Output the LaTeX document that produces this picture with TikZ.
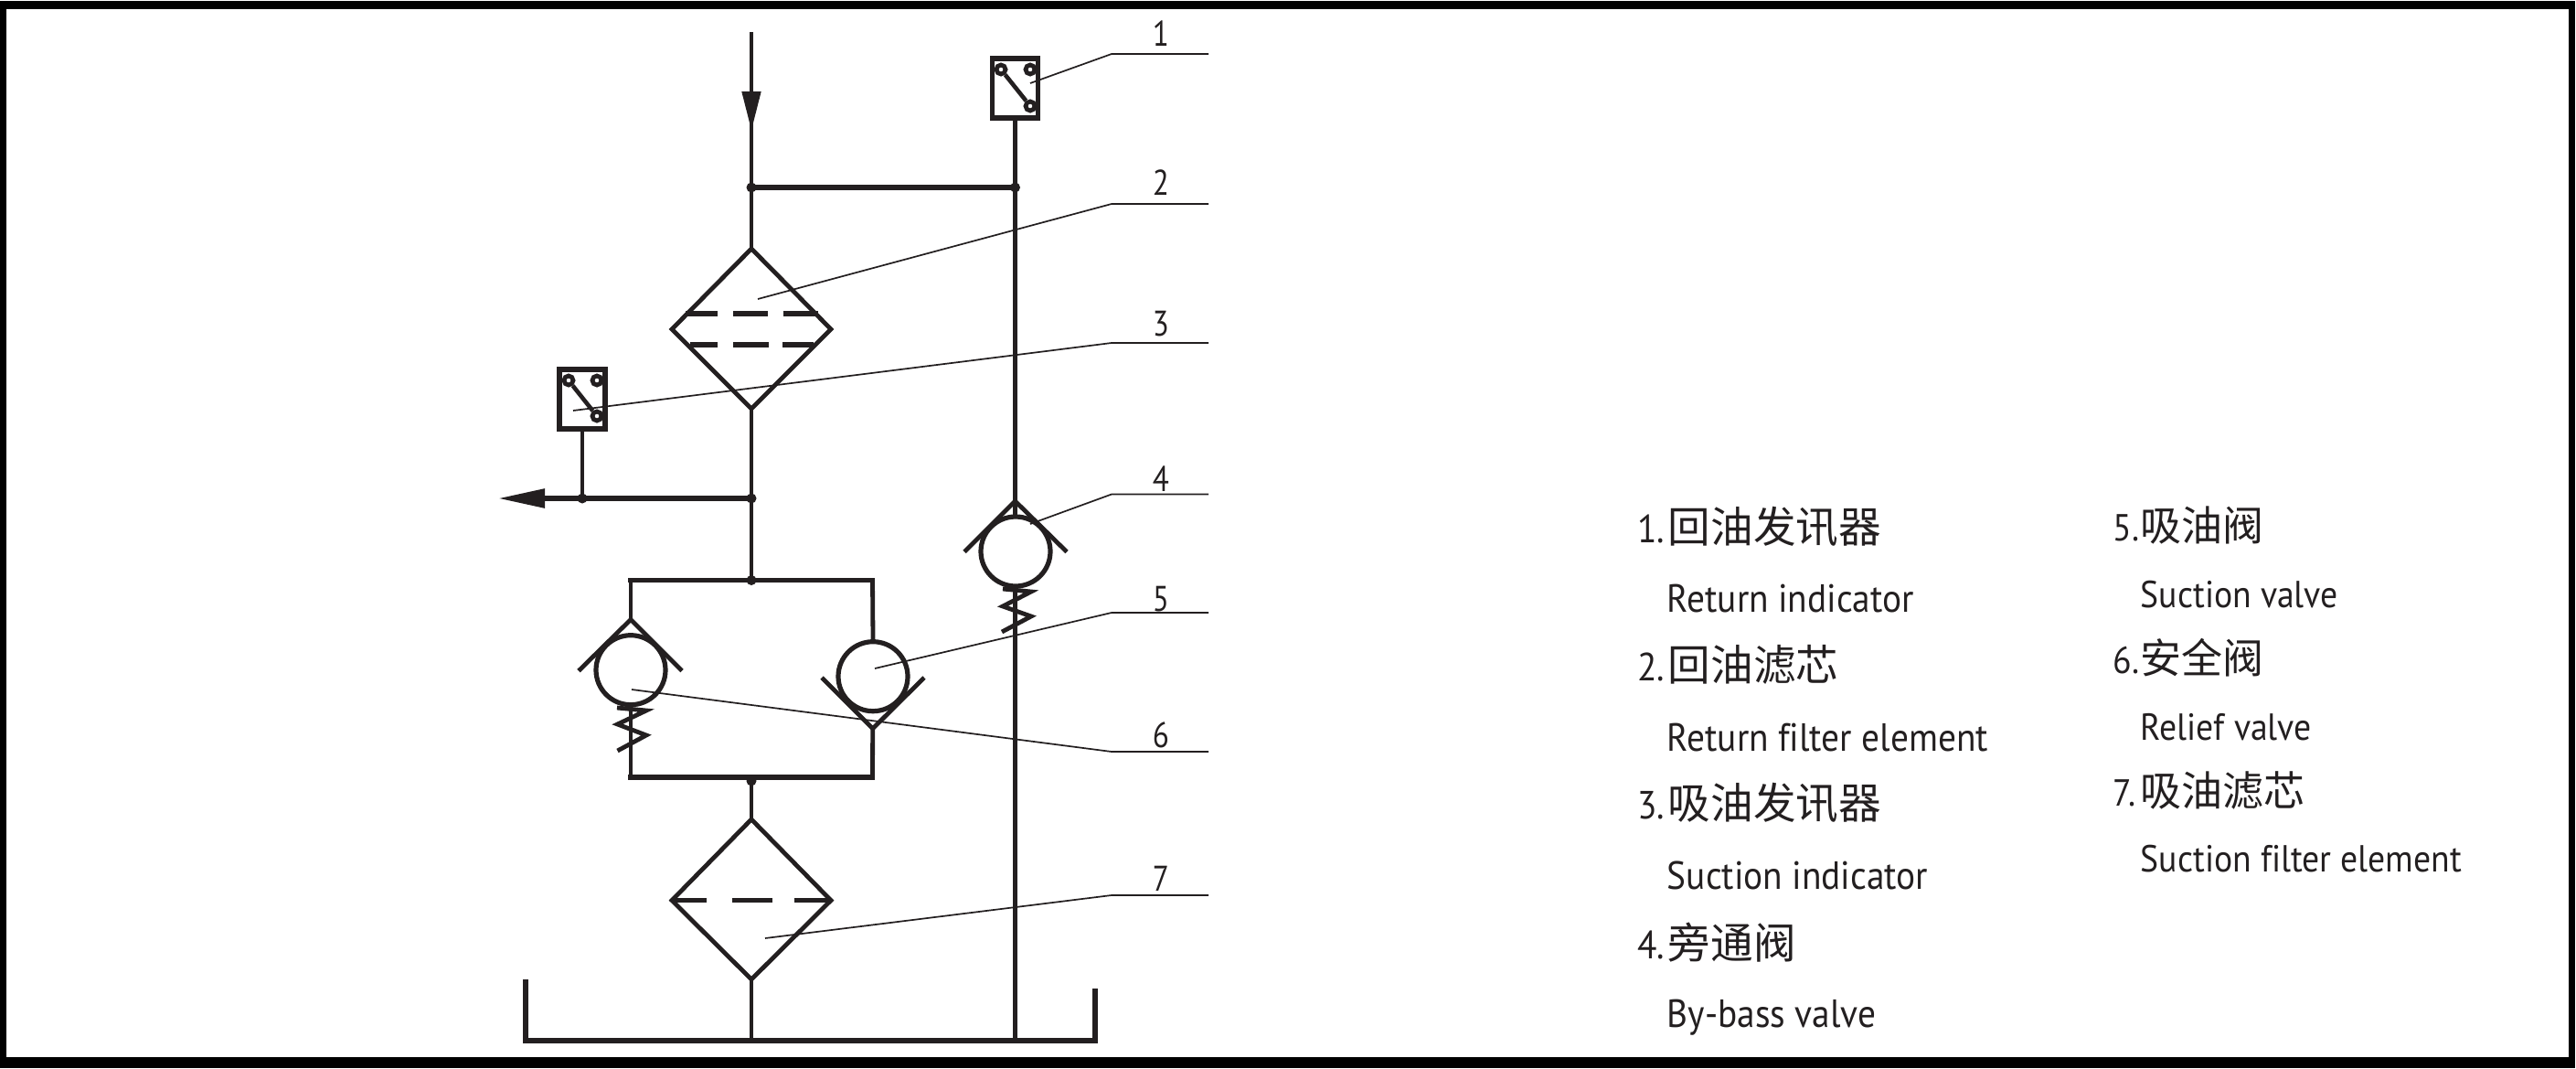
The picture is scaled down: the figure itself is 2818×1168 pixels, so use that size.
\documentclass[tikz,border=0pt]{standalone}
\usepackage{fontspec}
\usetikzlibrary{arrows.meta}
\setmainfont[FakeStretch=0.915,Ligatures=CommonOff]{PT Sans}
\newfontfamily\cjk{Noto Sans CJK SC}
\newfontfamily\numfont[FakeStretch=0.85]{PT Sans}
\definecolor{ink}{HTML}{231F20}
\tikzset{
  pipe/.style={draw=ink,line width=2.4pt},
  bar/.style={draw=ink,line width=2.8pt},
  dot/.style={circle,fill=ink,inner sep=0pt,minimum size=5.5pt},
  lead/.style={draw=ink,line width=0.85pt},
  num/.style={text=ink,font=\numfont\fontsize{19.5pt}{19.5pt}\selectfont,inner sep=0pt},
  legend/.style={text=ink,inner sep=0pt,anchor=base west,font=\fontsize{21.5pt}{21.5pt}\selectfont},
  legendb/.style={text=ink,inner sep=0pt,anchor=base west,font=\fontsize{20.6pt}{20.6pt}\selectfont},
  switchbox/.style={draw=ink,line width=2.8pt,fill=white,minimum width=25pt,minimum height=32.5pt,inner sep=0pt},
  contact/.style={circle,draw=ink,line width=2.4pt,fill=white,minimum size=5pt,inner sep=0pt},
  ball/.style={circle,draw=ink,line width=2.6pt,minimum size=38pt,inner sep=0pt,fill=white},
  seat/.style={draw=ink,line width=2.4pt,line join=miter},
  spring/.style={draw=ink,line width=2.4pt,line join=miter},
  dash1/.style={draw=ink,line width=2.8pt}
}
\begin{document}
\begin{tikzpicture}[x=0.5pt,y=-0.5pt]
\useasboundingbox (0,0) rectangle (2818,1168);
\fill[black] (0,1) rectangle (2817,1168);
\fill[white] (7,9.5) rectangle (2809.7,1155.7);

% key points
\coordinate (top) at (822,35);
\coordinate (tip) at (822,143);
\coordinate (j1) at (822,205);
\coordinate (j2) at (1110.5,205);
\coordinate (f1t) at (822,272);
\coordinate (f1l) at (735,360);
\coordinate (f1r) at (909,360);
\coordinate (f1b) at (822,447);
\coordinate (j3) at (822,545);
\coordinate (j4) at (637,545);
\coordinate (out) at (545,545);
\coordinate (j5) at (822,634.5);
\coordinate (rtl) at (690,634.5);
\coordinate (rtr) at (954.5,634.5);
\coordinate (rbl) at (690,850);
\coordinate (rbr) at (954.5,850);
\coordinate (rbm) at (822,850);
\coordinate (j6) at (822,854);
\coordinate (f2t) at (822,896);
\coordinate (f2l) at (735,984.6);
\coordinate (f2r) at (909,984.6);
\coordinate (f2b) at (822,1071);
\coordinate (tankl) at (575,1074);
\coordinate (tankbl) at (575,1138);
\coordinate (tankbr) at (1197.8,1138);
\coordinate (tankr) at (1197.8,1084);
\coordinate (tankm) at (822,1138);
\coordinate (tankn) at (1110.5,1138);

% indicators
\node[switchbox] (ind1) at (1110.5,96.5) {};
\node[switchbox] (ind3) at (637,436.5) {};
\node[contact] (a1) at (1095,76) {};
\node[contact] (b1) at (1127,76) {};
\node[contact] (c1) at (1127,116) {};
\node[contact] (a3) at (622,416) {};
\node[contact] (b3) at (653,416) {};
\node[contact] (c3) at (653,455) {};
\draw[draw=ink,line width=2.3pt] (a1) -- (c1);
\draw[draw=ink,line width=2.3pt] (a3) -- (c3);

% pipes
\draw[pipe] (top) -- (j1);
\draw[pipe,-{Triangle[length=21.5pt,width=10pt]}] (top) -- (tip);
\draw[bar] (j1) -- (j2);
\draw[pipe] (j1) -- (f1t);
\draw[pipe] (f1b) -- (j3);
\draw[pipe] (j3) -- (j5);
\draw[pipe] (ind3.south) -- (j4);
\draw[bar] (j3) -- (j4);
\draw[bar,-{Triangle[length=25.5pt,width=10pt]}] (j4) -- (out);
\draw[bar,line cap=rect] (rtl) -- (rtr);
\draw[bar,line cap=rect] (rbl) -- (rbr);
\draw[pipe] (rbm) -- (f2t);
\draw[pipe] (f2b) -- (tankm);
\draw[pipe] (ind1.south) -- (tankn);
\draw[bar,line cap=rect] (tankl) -- (tankbl) -- (tankbr) -- (tankr);

% filters
\draw[seat] (f1t) -- (f1r) -- (f1b) -- (f1l) -- cycle;
\draw[seat] (f2t) -- (f2r) -- (f2b) -- (f2l) -- cycle;
\coordinate (d1a) at (750,343); \coordinate (d1b) at (785,343);
\coordinate (d1c) at (802,343); \coordinate (d1d) at (840,343);
\coordinate (d1e) at (856.5,343); \coordinate (d1f) at (895,343);
\coordinate (d2a) at (755,377); \coordinate (d2b) at (785,377);
\coordinate (d2c) at (802,377); \coordinate (d2d) at (841,377);
\coordinate (d2e) at (856,377); \coordinate (d2f) at (890,377);
\coordinate (d3a) at (736,984.6); \coordinate (d3b) at (773,984.6);
\coordinate (d3c) at (800.5,984.6); \coordinate (d3d) at (844.5,984.6);
\coordinate (d3e) at (868.5,984.6); \coordinate (d3f) at (908.5,984.6);
\draw[dash1] (d1a) -- (d1b) (d1c) -- (d1d) (d1e) -- (d1f);
\draw[dash1] (d2a) -- (d2b) (d2c) -- (d2d) (d2e) -- (d2f);
\draw[dash1] (d3a) -- (d3b) (d3c) -- (d3d) (d3e) -- (d3f);

% valves
\node[ball] (v4) at (1111,603) {};
\node[ball] (v6) at (690,732.7) {};
\node[ball] (v5) at (955,739.7) {};
\coordinate (v4a) at (1110.5,548); \coordinate (v4l) at (1055,603.5); \coordinate (v4r) at (1167,603.5);
\coordinate (v6a) at (690,677.5); \coordinate (v6l) at (633,733.6); \coordinate (v6r) at (746,733.6);
\coordinate (v5a) at (954.7,796.8); \coordinate (v5l) at (899,741); \coordinate (v5r) at (1011,741);
\draw[seat] (v4l) -- (v4a) -- (v4r);
\draw[seat] (v6l) -- (v6a) -- (v6r);
\draw[seat] (v5l) -- (v5a) -- (v5r);
\draw[pipe] (rtl) -- (v6a);
\draw[pipe] (v6.south) -- (rbl);
\draw[pipe] (rtr) -- (v5.north);
\draw[pipe] (v5a) -- (rbr);
\coordinate (s4a) at (1097,644); \coordinate (s4b) at (1128,647); \coordinate (s4c) at (1097,663);
\coordinate (s4d) at (1128,674); \coordinate (s4e) at (1096,691);
\coordinate (s6a) at (675,774); \coordinate (s6b) at (707,777); \coordinate (s6c) at (675.5,792);
\coordinate (s6d) at (707,804); \coordinate (s6e) at (675.5,821);
\draw[spring] (s4a) -- (s4b) -- (s4c) -- (s4d) -- (s4e);
\draw[spring] (s6a) -- (s6b) -- (s6c) -- (s6d) -- (s6e);

% junction dots
\node[dot] (n1) at (j1) {};
\node[dot] (n2) at (j2) {};
\node[dot] (n3) at (j3) {};
\node[dot] (n4) at (j4) {};
\node[dot] (n5) at (j5) {};
\node[dot] (n6) at (j6) {};

% leaders
\coordinate (l1s) at (1127,91);   \coordinate (l1m) at (1216,59);   \coordinate (l1e) at (1322,59);
\coordinate (l2s) at (829,327);   \coordinate (l2m) at (1216,223);  \coordinate (l2e) at (1322,223);
\coordinate (l3s) at (627,449);   \coordinate (l3m) at (1216,375);  \coordinate (l3e) at (1322,375);
\coordinate (l4s) at (1127,573);  \coordinate (l4m) at (1216,540.5);\coordinate (l4e) at (1322,540.5);
\coordinate (l5s) at (957,731);   \coordinate (l5m) at (1216,670);  \coordinate (l5e) at (1322,670);
\coordinate (l6s) at (691,754);   \coordinate (l6m) at (1216,822);  \coordinate (l6e) at (1322,822);
\coordinate (l7s) at (837,1026);  \coordinate (l7m) at (1216,979);  \coordinate (l7e) at (1322,979);
\draw[lead] (l1s) -- (l1m) -- (l1e);
\draw[lead] (l2s) -- (l2m) -- (l2e);
\draw[lead] (l3s) -- (l3m) -- (l3e);
\draw[lead] (l4s) -- (l4m) -- (l4e);
\draw[lead] (l5s) -- (l5m) -- (l5e);
\draw[lead] (l6s) -- (l6m) -- (l6e);
\draw[lead] (l7s) -- (l7m) -- (l7e);
\node[num,anchor=base] (t1) at (1270,50) {1};
\node[num,anchor=base] (t2) at (1270,213) {2};
\node[num,anchor=base] (t3) at (1270,367) {3};
\node[num,anchor=base] (t4) at (1270,537) {4};
\node[num,anchor=base] (t5) at (1270,668) {5};
\node[num,anchor=base] (t6) at (1270,817) {6};
\node[num,anchor=base] (t7) at (1270,974) {7};

% legend
\node[legend] (k1) at (1791,593) {\makebox[16.75pt][l]{1.}{\cjk\fontsize{23.3pt}{23.3pt}\selectfont 回油发讯器}};
\node[legend] (e1) at (1823.5,669) {Return indicator};
\node[legend] (k2) at (1791,744.5) {\makebox[16.75pt][l]{2.}{\cjk\fontsize{23.3pt}{23.3pt}\selectfont 回油滤芯}};
\node[legend] (e2) at (1823.5,821) {Return filter element};
\node[legend] (k3) at (1791,895.5) {\makebox[16.75pt][l]{3.}{\cjk\fontsize{23.3pt}{23.3pt}\selectfont 吸油发讯器}};
\node[legend] (e3) at (1823.5,972) {Suction indicator};
\node[legend] (k4) at (1791,1048) {\makebox[16.75pt][l]{4.}{\cjk\fontsize{23.3pt}{23.3pt}\selectfont 旁通阀}};
\node[legend] (e4) at (1823.5,1123) {By-bass valve};
\node[legendb] (k5) at (2311.5,591) {\makebox[15pt][l]{5.}{\cjk\fontsize{22.5pt}{22.5pt}\selectfont 吸油阀}};
\node[legendb] (e5) at (2341.5,664) {Suction valve};
\node[legendb] (k6) at (2311.5,736) {\makebox[15pt][l]{6.}{\cjk\fontsize{22.5pt}{22.5pt}\selectfont 安全阀}};
\node[legendb] (e6) at (2341.5,809) {Relief valve};
\node[legendb] (k7) at (2311.5,881) {\makebox[15pt][l]{7.}{\cjk\fontsize{22.5pt}{22.5pt}\selectfont 吸油滤芯}};
\node[legendb] (e7) at (2341.5,953) {Suction filter element};
\end{tikzpicture}
\end{document}
